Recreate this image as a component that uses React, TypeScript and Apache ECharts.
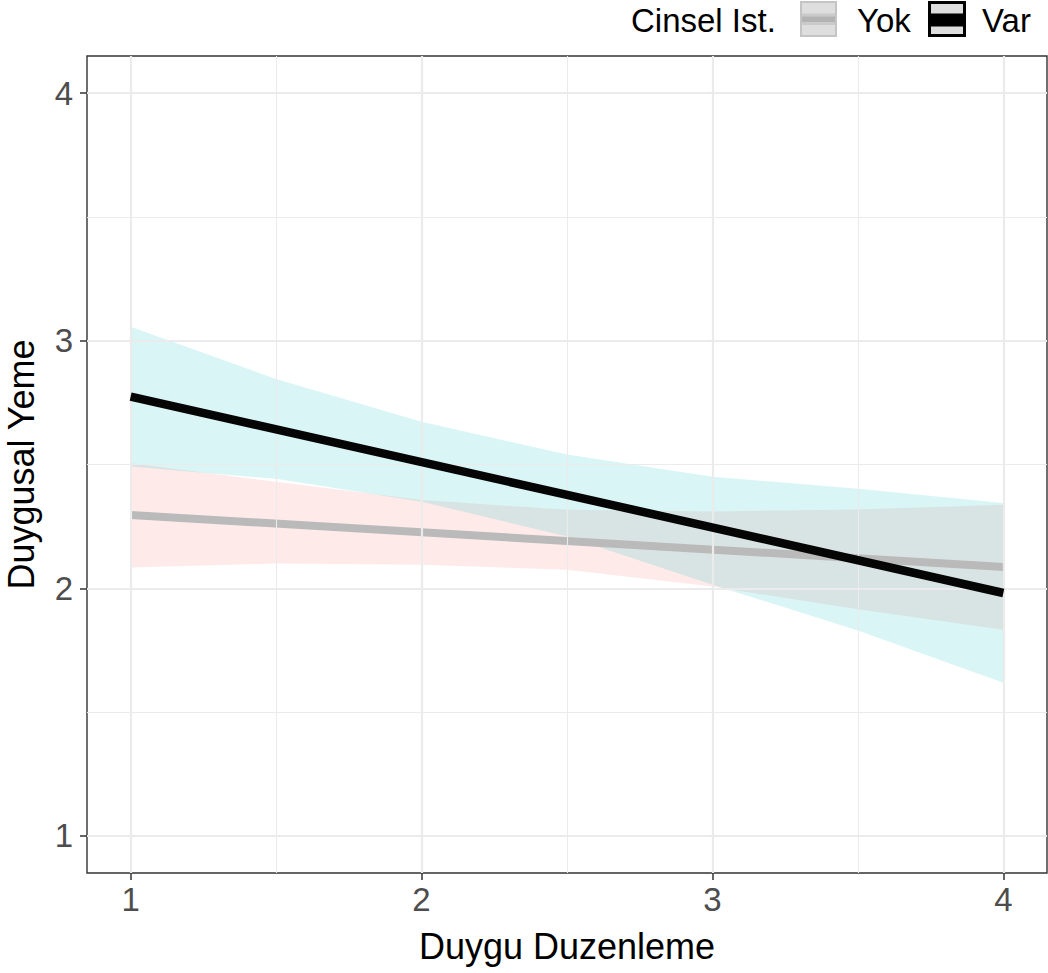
import React, { useEffect, useRef } from "react";
import * as echarts from "echarts";

// ---- data ----
const xTicks = [1, 2, 3, 4];
const yTicks = [1, 2, 3, 4];
const minorBreaks = [1.5, 2.5, 3.5];
const groups = ["Yok", "Var"];
const bandX = [1, 1.5, 2, 2.5, 3, 3.5, 4];
const varUpper = [3.056, 2.845, 2.673, 2.54, 2.451, 2.402, 2.344];
const varLower = [2.492, 2.442, 2.35, 2.209, 2.014, 1.83, 1.618];
const yokUpper = [2.505, 2.43, 2.357, 2.317, 2.31, 2.318, 2.337];
const yokLower = [2.084, 2.1, 2.095, 2.075, 2.007, 1.915, 1.833];
const lineX = [1, 4];
const varLine = [2.774, 1.981];
const yokLine = [2.296, 2.086];

const FONT = '"Liberation Sans", Arial, sans-serif';

function bandSeries(name: string, upper: number[], lower: number[], fill: string) {
  return {
    type: "custom",
    name,
    silent: true,
    z: 2,
    clip: true,
    data: [[bandX[0], upper[0]]],
    renderItem: (_params: any, api: any) => {
      const pts: number[][] = [];
      bandX.forEach((x, i) => pts.push(api.coord([x, upper[i]])));
      for (let i = bandX.length - 1; i >= 0; i--) pts.push(api.coord([bandX[i], lower[i]]));
      return { type: "polygon", shape: { points: pts }, style: { fill } };
    },
  };
}

export default function App() {
  const ref = useRef<HTMLDivElement>(null);
  useEffect(() => {
    if (!ref.current) return;
    const chart = echarts.init(ref.current, undefined, { renderer: "svg" });
    const major = { color: "#ebebeb", width: 2.2, type: "solid" };
    const minor = { color: "#ebebeb", width: 1.1, type: "solid" };
    const gridData: any[] = [
      ...minorBreaks.map((v) => ({ xAxis: v, lineStyle: minor })),
      ...minorBreaks.map((v) => ({ yAxis: v, lineStyle: minor })),
      ...xTicks.map((v) => ({ xAxis: v, lineStyle: major })),
      ...yTicks.map((v) => ({ yAxis: v, lineStyle: major })),
    ];
    const option: any = {
      animation: false,
      backgroundColor: "#ffffff",
      grid: {
        left: 87,
        top: 56,
        width: 960,
        height: 817,
        show: true,
        containLabel: false,
        outerBoundsMode: "none",
        borderColor: "#333333",
        borderWidth: 1.4,
        backgroundColor: "transparent",
      },
      xAxis: {
        type: "value",
        min: 0.85,
        max: 4.15,
        splitLine: { show: false },
        axisLine: { show: false },
        axisTick: {
          show: true,
          length: 7,
          lineStyle: { color: "#333333", width: 1.5 },
          customValues: xTicks,
        },
        axisLabel: {
          customValues: xTicks,
          color: "#4d4d4d",
          fontSize: 33,
          fontFamily: FONT,
          margin: 10,
        },
        name: "Duygu Duzenleme",
        nameLocation: "middle",
        nameGap: 55,
        nameTextStyle: { fontSize: 36, color: "#000", fontFamily: FONT },
      },
      yAxis: {
        type: "value",
        min: 0.85,
        max: 4.15,
        splitLine: { show: false },
        axisLine: { show: false },
        axisTick: {
          show: true,
          length: 7,
          lineStyle: { color: "#333333", width: 1.5 },
          customValues: yTicks,
        },
        axisLabel: {
          customValues: yTicks,
          color: "#4d4d4d",
          fontSize: 33,
          fontFamily: FONT,
          margin: 14,
        },
        name: "Duygusal Yeme",
        nameLocation: "middle",
        nameGap: 48,
        nameTextStyle: { fontSize: 36, color: "#000", fontFamily: FONT },
      },
      series: [
        {
          type: "line",
          name: "grid",
          silent: true,
          z: 1,
          data: [[0.85, 0.85]],
          symbol: "none",
          lineStyle: { opacity: 0 },
          markLine: {
            silent: true,
            symbol: ["none", "none"],
            label: { show: false },
            emphasis: { disabled: true },
            lineStyle: major,
            data: gridData,
          },
        },
        bandSeries(groups[0] + " band", yokUpper, yokLower, "rgba(248,118,109,0.15)"),
        bandSeries(groups[1] + " band", varUpper, varLower, "rgba(0,191,196,0.15)"),
        {
          type: "line",
          name: groups[0],
          z: 4,
          symbol: "none",
          data: lineX.map((x, i) => [x, yokLine[i]]),
          lineStyle: { color: "#bababa", width: 8, cap: "butt" },
        },
        {
          type: "line",
          name: groups[1],
          z: 5,
          symbol: "none",
          data: lineX.map((x, i) => [x, varLine[i]]),
          lineStyle: { color: "#050505", width: 8.5, cap: "butt" },
        },
      ],
      graphic: [
        {
          type: "text",
          left: 631,
          top: 4,
          style: { text: "Cinsel Ist.", fill: "#000", font: `33px ${FONT}` },
        },
        {
          type: "rect",
          shape: { x: 801, y: 2, width: 35, height: 34 },
          style: { fill: "#dedede", stroke: "#c4c4c4", lineWidth: 2 },
        },
        {
          type: "rect",
          shape: { x: 802, y: 13.5, width: 33, height: 11.5 },
          style: { fill: "#cacaca" },
        },
        {
          type: "rect",
          shape: { x: 802, y: 16.5, width: 33, height: 5.5 },
          style: { fill: "#b3b3b3" },
        },
        {
          type: "text",
          left: 857,
          top: 4,
          style: { text: groups[0], fill: "#000", font: `33px ${FONT}` },
        },
        {
          type: "rect",
          shape: { x: 929.5, y: 2.5, width: 35, height: 33 },
          style: { fill: "#dedede", stroke: "#000", lineWidth: 3 },
        },
        {
          type: "rect",
          shape: { x: 930, y: 13.5, width: 34, height: 13 },
          style: { fill: "#000" },
        },
        {
          type: "text",
          left: 982,
          top: 4,
          style: { text: groups[1], fill: "#000", font: `33px ${FONT}` },
        },
      ],
    };
    chart.setOption(option);
    return () => chart.dispose();
  }, []);
  return (
    <div
      ref={ref}
      style={{ position: "absolute", left: 0, top: 0, width: 1048, height: 973, background: "#fff" }}
    />
  );
}
